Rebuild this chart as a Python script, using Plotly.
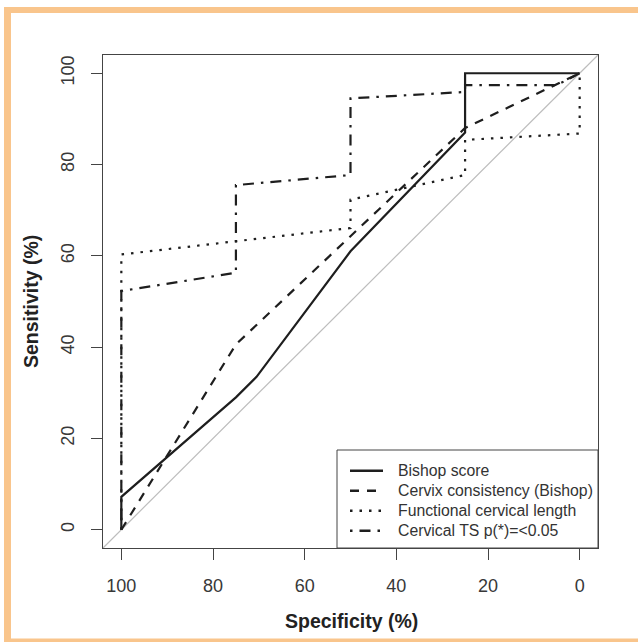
import plotly.graph_objects as go

# ---- data ----
spec_bishop = [100, 100, 75, 70.5, 50, 25, 25, 0]
sens_bishop = [0, 7.2, 29, 33.5, 61, 87, 100, 100]

spec_consist = [100, 75, 50, 25, 0]
sens_consist = [0, 40.6, 64.3, 88, 100]

spec_fcl = [100, 100, 75, 50, 50, 25, 25, 0, 0]
sens_fcl = [0, 60.3, 63.2, 66.1, 72.3, 77.7, 85.4, 86.8, 100]

spec_ts = [100, 100, 75, 75, 50, 50, 25, 25, 5, 0]
sens_ts = [0, 52.3, 56.3, 75.5, 77.7, 94.5, 95.9, 97.4, 97.4, 100]

series_names = ["Bishop score", "Cervix consistency (Bishop)",
                "Functional cervical length", "Cervical TS p(*)=<0.05"]
tick_vals = [0, 20, 40, 60, 80, 100]
tick_text = ["0", "20", "40", "60", "80", "100"]
x_title = "Specificity (%)"
y_title = "Sensitivity (%)"

# ---- layout geometry ----
W, H = 638, 642
L, R, T, B = 103, 40, 55, 94
PW, PH = W - L - R, H - T - B

def px_x(p):
    return (p - L) / PW

def px_y(p):
    return (H - B - p) / PH

FONT = "Liberation Sans, Arial, sans-serif"
INK = "#1e1e1e"
AX = "#444444"
ORANGE = "#F9C58C"

fig = go.Figure()
styles = [
    dict(dash="solid", width=2.2),
    dict(dash="9px,8px", width=2.2),
    dict(dash="2.5px,7px", width=2.2),
    dict(dash="2.5px,7px,11px,7px", width=2.2),
]
xs = [spec_bishop, spec_consist, spec_fcl, spec_ts]
ys = [sens_bishop, sens_consist, sens_fcl, sens_ts]
for name, x, y, st in zip(series_names, xs, ys, styles):
    fig.add_trace(go.Scatter(
        x=x, y=y, mode="lines", name=name, showlegend=False,
        line=dict(color=INK, width=st["width"], dash=st["dash"]),
        hoverinfo="skip",
    ))

axis_common = dict(
    showgrid=False, zeroline=False,
    showline=True, mirror=True, linecolor=AX, linewidth=1,
    ticks="outside", ticklen=11, tickwidth=1, tickcolor=AX,
    tickvals=tick_vals, ticktext=tick_text,
    tickfont=dict(family=FONT, size=18, color="#383838"),
)

shapes = [
    # diagonal reference line
    dict(type="line", xref="paper", yref="paper", x0=0, y0=0, x1=1, y1=1,
         line=dict(color="#bdbdbd", width=1.2), layer="below"),
    # orange page frame
    dict(type="rect", xref="paper", yref="paper",
         x0=px_x(4), x1=px_x(640), y0=px_y(7), y1=px_y(13),
         fillcolor=ORANGE, line=dict(width=0), layer="above"),
    dict(type="rect", xref="paper", yref="paper",
         x0=px_x(4), x1=px_x(11), y0=px_y(7), y1=px_y(644),
         fillcolor=ORANGE, line=dict(width=0), layer="above"),
    dict(type="rect", xref="paper", yref="paper",
         x0=px_x(4), x1=px_x(640), y0=px_y(638.5), y1=px_y(644),
         fillcolor=ORANGE, line=dict(width=0), layer="above"),
    # legend box
    dict(type="rect", xref="paper", yref="paper",
         x0=px_x(337), x1=1, y0=0, y1=px_y(450),
         fillcolor="white", line=dict(color=AX, width=1), layer="above"),
]
annotations = [
    dict(text="<b>" + x_title + "</b>", xref="paper", yref="paper",
         x=px_x(351), y=px_y(621), xanchor="center", yanchor="middle",
         showarrow=False, font=dict(family=FONT, size=19.5, color="#222222")),
    dict(text="<b>" + y_title + "</b>", xref="paper", yref="paper",
         x=px_x(31), y=px_y(302), xanchor="center", yanchor="middle",
         textangle=-90,
         showarrow=False, font=dict(family=FONT, size=19.5, color="#222222")),
]

# manual legend entries (keys + labels)
for i, (name, st) in enumerate(zip(series_names, styles)):
    yy = 470.7 + 20 * i
    shapes.append(dict(type="line", xref="paper", yref="paper",
                       x0=px_x(350), x1=px_x(383), y0=px_y(yy), y1=px_y(yy),
                       line=dict(color=INK, width=2.6, dash=st["dash"]),
                       layer="above"))
    annotations.append(dict(text=name, xref="paper", yref="paper",
                            x=px_x(396), y=px_y(yy), xanchor="left", yanchor="middle",
                            showarrow=False,
                            font=dict(family=FONT, size=15.8, color="#333333")))

fig.update_layout(
    width=W, height=H,
    margin=dict(l=L, r=R, t=T, b=B, pad=0),
    paper_bgcolor="white", plot_bgcolor="white",
    xaxis=dict(range=[104, -4], ticklabelstandoff=10, **axis_common),
    yaxis=dict(range=[-4, 104], tickangle=-90, ticklabelstandoff=10, **axis_common),
    showlegend=False,
    shapes=shapes,
    annotations=annotations,
)

fig.write_html("out.html",
               config={"displayModeBar": False},
               post_script="document.body.style.margin='0';document.body.style.overflow='hidden';")
